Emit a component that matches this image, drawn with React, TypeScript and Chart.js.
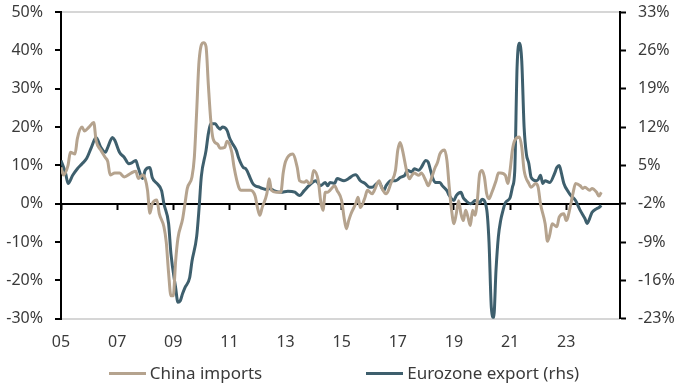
import React, { useEffect, useRef } from 'react';
import { Chart, registerables } from 'chart.js';

Chart.register(...registerables);

// Month index = months since Jan 2005 (0 = Jan 2005)
const chinaMonthIdx = [0, 1, 3, 4, 6, 7, 9, 10, 12, 14, 15, 17, 19, 20, 21, 23, 25, 27, 30, 32, 33, 35, 36, 37, 38, 39, 41, 42, 44, 45, 46, 47, 48, 49, 50, 52, 53, 54, 56, 57, 58, 59, 61, 62, 63, 64, 65, 67, 68, 70, 71, 73, 74, 76, 77, 79, 81, 83, 84, 85, 86, 88, 89, 90, 92, 94, 95, 96, 99, 101, 102, 104, 105, 106, 107, 108, 110, 111, 112, 113, 114, 115, 117, 118, 120, 121, 122, 123, 124, 126, 127, 128, 130, 131, 133, 134, 136, 137, 139, 140, 141, 143, 144, 145, 146, 148, 149, 150, 151, 153, 154, 156, 157, 158, 160, 161, 162, 164, 165, 166, 167, 168, 169, 170, 171, 172, 173, 174, 175, 176, 177, 178, 179, 180, 181, 182, 183, 184, 186, 187, 188, 190, 191, 192, 193, 194, 196, 197, 198, 200, 201, 203, 204, 205, 207, 208, 209, 210, 212, 213, 215, 216, 218, 219, 220, 222, 223, 224, 226, 227, 229, 230, 231];
const chinaImports = [9.5, 7.5, 10, 13.4, 13, 17, 20, 19, 20, 21.2, 16.5, 14, 12, 11, 7.5, 8, 8, 7, 8, 8.5, 6.6, 7.5, 6.5, 3.5, -2.5, 0, 1, -2.5, -6, -10, -18, -24, -24, -15, -9, -4, 0, 4, 7, 12, 24, 37, 42, 41, 31, 22, 17, 15.5, 14.5, 14.7, 16.3, 13.5, 9.5, 4.3, 3.5, 3.5, 3.5, 2, -1, -3, -1, 2.6, 6.5, 3.5, 3, 3, 8, 11, 13, 9.5, 6, 5.6, 6, 5.3, 5.6, 8.7, 6, 0.8, -1.7, 3, 3, 3.5, 4.7, 3.5, 0.8, -3.5, -6.5, -4.4, -2.6, 0, 1.7, -1, 1.7, 3.5, 2.6, 3.5, 6, 4.3, 2.6, 3.5, 5.3, 8.7, 14, 16, 14, 8, 6.5, 7.4, 8, 7.4, 8, 6, 4.7, 6, 9.5, 10.8, 13, 14, 11.3, 4.3, -1.7, -5.2, -2.6, 0.8, -2.6, -4.4, -1.7, -3.5, -5.7, -1.7, -3, 0.8, 7.8, 8.7, 7, 2.6, 1.3, 2.6, 6, 8, 8, 7.4, 5.3, 8.7, 14, 16.5, 17.4, 14.7, 8.7, 5.3, 4.3, 5.3, 4.3, 0, -5.2, -9.8, -8, -5.2, -6, -3.5, -2.6, -4.4, 0, 3, 5.3, 4.7, 4, 4.3, 3.5, 4, 3, 2, 3];

const euroMonthIdx = [0, 2, 3, 5, 7, 9, 11, 13, 15, 17, 19, 20, 22, 23, 25, 27, 29, 30, 32, 33, 35, 36, 38, 39, 41, 43, 44, 46, 47, 49, 50, 51, 52, 53, 55, 56, 58, 59, 60, 62, 63, 64, 66, 67, 68, 69, 71, 72, 73, 75, 76, 78, 79, 81, 82, 83, 85, 86, 88, 89, 91, 94, 97, 100, 102, 104, 106, 109, 110, 111, 113, 114, 115, 117, 118, 121, 123, 125, 126, 128, 130, 132, 133, 135, 136, 138, 139, 141, 143, 144, 145, 147, 148, 150, 151, 153, 154, 156, 157, 158, 159, 160, 162, 163, 165, 166, 168, 169, 171, 172, 173, 175, 176, 177, 179, 180, 182, 183, 184, 185, 186, 187, 188, 189, 190, 192, 193, 194, 195, 196, 197, 198, 199, 200, 201, 203, 204, 205, 206, 207, 209, 211, 212, 213, 214, 215, 217, 218, 220, 221, 222, 224, 225, 226, 227, 229, 230, 231];
const euroExport = [5.9, 3.5, 1.7, 3.2, 4.4, 5.3, 6.3, 8.3, 10.1, 8.3, 7.4, 8.3, 10.1, 9.6, 7.4, 6.5, 5.3, 5.4, 5.9, 4.6, 2.6, 4.1, 4.6, 2.8, 1.7, 0.4, -2, -5.6, -11.1, -17.3, -20, -19.7, -18.4, -17.3, -15.5, -12.5, -8, -3, 3, 7.7, 10.8, 12.6, 12.6, 12, 11.6, 12, 11.4, 10.1, 9.2, 7.7, 6.3, 4.6, 4.4, 2.6, 1.7, 1.3, 1, 0.8, 0.6, 0.8, 0.4, 0.1, 0.3, 0.1, -0.5, 0.4, 1.3, 2.2, 1.7, 1.3, 1.9, 1.3, 1.9, 1.7, 2.6, 2.2, 2.6, 3.2, 3.3, 2.2, 1.7, 1, 1, 1.7, 1.9, 0.4, 1.3, 2.2, 2.2, 2.4, 2.8, 3.2, 4.1, 3.8, 4.4, 4.1, 4.6, 5.9, 5.6, 4.1, 2.6, 1.9, 1.9, 1.3, 0.4, -0.5, -1.4, -0.5, 0.1, -0.9, -1.4, -2, -1.8, -1.4, -1.8, -1.2, -3, -9, -21, -22.8, -14, -8, -5, -3.2, -1.8, -0.9, 1, 4, 23, 27.3, 24, 12, 7, 5.4, 2.8, 2.2, 2.4, 3.2, 1.7, 2.2, 1.9, 3.5, 4.6, 5, 3.5, 1.7, 0.1, -0.5, -1.4, -2.3, -3.2, -4.7, -5.6, -4.7, -3.6, -2.9, -2.7, -2.3];

const xTickLabels = ['05', '07', '09', '11', '13', '15', '17', '19', '21', '23'];
const X_MIN = 0;
const X_MAX = 239; // Dec 2024
const X_STEP = 24;
const LEFT_MIN = -30;
const LEFT_MAX = 50;
const LEFT_STEP = 10;
const RIGHT_MIN = -23;
const RIGHT_MAX = 33;
const RIGHT_STEP = 7;

const seriesNames = ['China imports', 'Eurozone export (rhs)'];
const TAN = '#b5a38e';
const BLUE = '#3e5f6d';
const TEXT = '#3a3a3a';
const FONT_FAMILY = "'Noto Sans', sans-serif";

export default function App() {
  const ref = useRef<HTMLCanvasElement>(null);

  useEffect(() => {
    const prevMargin = document.body.style.margin;
    document.body.style.margin = '0';
    const font = { family: FONT_FAMILY, size: 16 };
    const chart = new Chart(ref.current!, {
      type: 'line',
      data: {
        datasets: [
          {
            label: seriesNames[0],
            data: chinaMonthIdx.map((m, i) => ({ x: m, y: chinaImports[i] })),
            borderColor: TAN,
            backgroundColor: TAN,
            borderWidth: 3,
            pointRadius: 0,
            tension: 0.3,
            cubicInterpolationMode: 'monotone',
            xAxisID: 'x',
            yAxisID: 'y',
          },
          {
            label: seriesNames[1],
            data: euroMonthIdx.map((m, i) => ({ x: m, y: euroExport[i] })),
            borderColor: BLUE,
            backgroundColor: BLUE,
            borderWidth: 3,
            pointRadius: 0,
            tension: 0.3,
            cubicInterpolationMode: 'monotone',
            xAxisID: 'x',
            yAxisID: 'y1',
          },
        ],
      },
      options: {
        animation: false,
        responsive: false,
        layout: { padding: { top: 12, bottom: 26, left: 0, right: 0 } },
        plugins: { legend: { display: false }, tooltip: { enabled: false } },
        scales: {
          x: {
            type: 'linear',
            position: 'bottom',
            min: X_MIN,
            max: X_MAX,
            grid: { display: false, drawTicks: false },
            border: { display: false },
            ticks: {
              stepSize: X_STEP,
              includeBounds: false,
              autoSkip: false,
              maxRotation: 0,
              padding: 14,
              font,
              color: TEXT,
              callback: (v: any) => {
                const idx = Math.round(Number(v) / X_STEP);
                return Number(v) % X_STEP === 0 ? xTickLabels[idx] ?? '' : '';
              },
            },
          },
          x2: {
            type: 'linear',
            axis: 'x',
            position: { y: 0 } as any,
            min: X_MIN,
            max: X_MAX,
            grid: { drawOnChartArea: false, drawTicks: true, tickLength: 5, tickColor: '#000', tickWidth: 2 },
            border: { color: '#000', width: 2 },
            ticks: { display: false, stepSize: X_STEP, includeBounds: false },
          },
          y: {
            position: 'left',
            min: LEFT_MIN,
            max: LEFT_MAX,
            ticks: {
              stepSize: LEFT_STEP,
              padding: 12,
              font,
              color: TEXT,
              callback: (v: any) => `${v}%`,
            },
            grid: {
              color: (ctx: any) =>
                ctx.tick && (ctx.tick.value === LEFT_MAX || ctx.tick.value === LEFT_MIN) ? '#d6d6d6' : 'rgba(0,0,0,0)',
              lineWidth: 2,
              tickColor: '#000',
              tickLength: 6,
              tickWidth: 2,
            },
            border: { color: '#000', width: 2 },
            afterFit: (s: any) => {
              s.width = 61;
              s.paddingTop = 0;
              s.paddingBottom = 0;
            },
          },
          y1: {
            position: 'right',
            min: RIGHT_MIN,
            max: RIGHT_MAX,
            ticks: {
              stepSize: RIGHT_STEP,
              padding: 12,
              font,
              color: TEXT,
              callback: (v: any) => `${v}%`,
            },
            grid: { drawOnChartArea: false, tickColor: '#000', tickLength: 6, tickWidth: 2 },
            border: { color: '#000', width: 2 },
            afterFit: (s: any) => {
              s.width = 68;
              s.paddingTop = 0;
              s.paddingBottom = 0;
            },
          },
        },
      },
    } as any);
    return () => {
      chart.destroy();
      document.body.style.margin = prevMargin;
    };
  }, []);

  const legendItem = (name: string, color: string) => (
    <div key={name} style={{ display: 'flex', alignItems: 'center' }}>
      <div style={{ width: 37, height: 3, background: color, marginRight: 4 }} />
      <span>{name}</span>
    </div>
  );

  return (
    <div style={{ position: 'fixed', left: 0, top: 0, width: 688, height: 392, background: '#fff' }}>
      <canvas ref={ref} width={688} height={392} style={{ display: 'block', width: 688, height: 392 }} />
      <div
        style={{
          position: 'absolute',
          left: 0,
          top: 362,
          width: 688,
          display: 'flex',
          justifyContent: 'center',
          gap: 104,
          fontFamily: FONT_FAMILY,
          fontSize: 17,
          lineHeight: '22px',
          color: TEXT,
        }}
      >
        {legendItem(seriesNames[0], TAN)}
        {legendItem(seriesNames[1], BLUE)}
      </div>
    </div>
  );
}
